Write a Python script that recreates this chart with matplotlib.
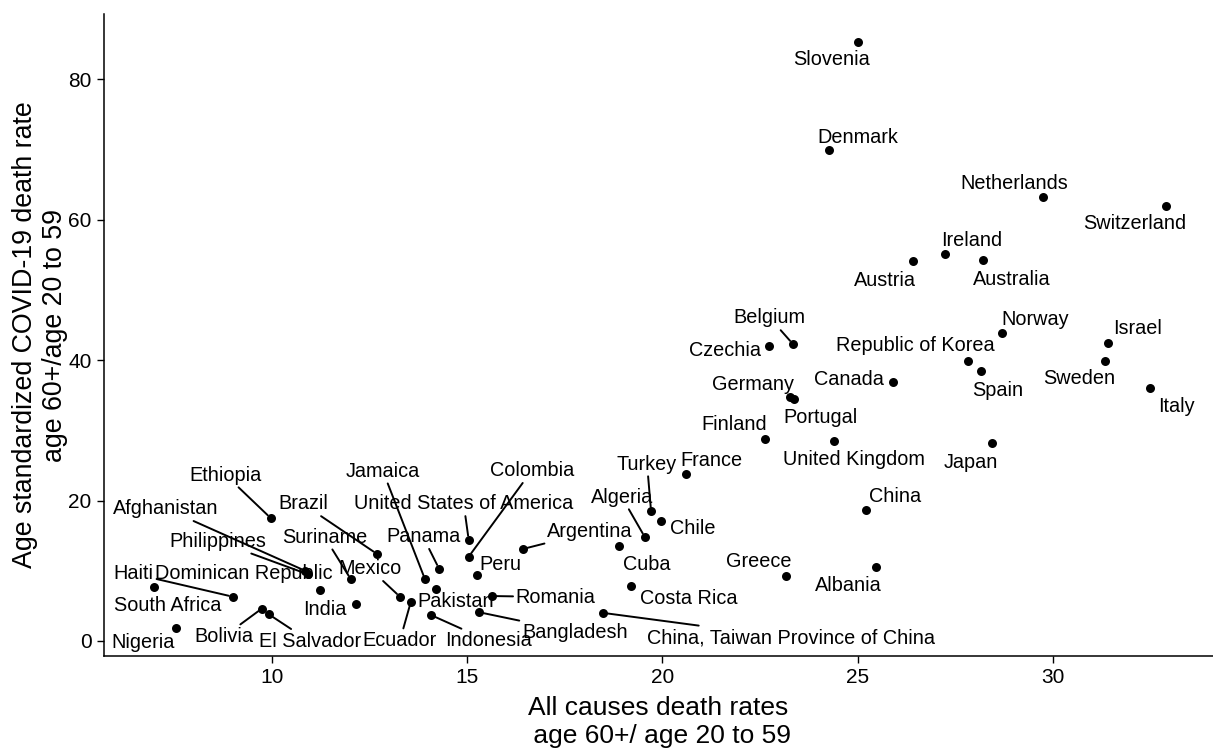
import matplotlib
matplotlib.use("Agg")
import matplotlib.pyplot as plt

plt.rcParams['font.family'] = ['Liberation Sans', 'DejaVu Sans']

countries = ['Slovenia', 'Denmark', 'Netherlands', 'Switzerland', 'Ireland', 'Austria',
             'Australia', 'Norway', 'Israel', 'Belgium', 'Czechia', 'Republic of Korea',
             'Sweden', 'Spain', 'Canada', 'Italy', 'Germany', 'Portugal', 'Finland',
             'United Kingdom', 'Japan', 'France', 'China', 'Turkey', 'Chile', 'Algeria',
             'Argentina', 'Cuba', 'Albania', 'Greece', 'Costa Rica',
             'China, Taiwan Province of China', 'Colombia', 'United States of America',
             'Peru', 'Panama', 'Jamaica', 'Pakistan', 'Mexico', 'Ecuador', 'Indonesia',
             'Romania', 'Bangladesh', 'Suriname', 'Brazil', 'Ethiopia', 'Afghanistan',
             'Philippines', 'Haiti', 'Dominican Republic', 'India', 'South Africa',
             'Nigeria', 'Bolivia', 'El Salvador']

all_cause = [25.01, 24.26, 29.74, 32.89, 27.23, 26.41,
             28.21, 28.69, 31.41, 23.34, 22.73, 27.82,
             31.33, 28.16, 25.90, 32.48, 23.27, 23.37, 22.62,
             24.39, 28.44, 20.60, 25.21, 19.71, 19.96, 19.55,
             16.43, 18.89, 25.47, 23.16, 19.19,
             18.48, 15.04, 15.04,
             15.25, 14.28, 13.92, 14.20, 13.28, 13.56, 14.07,
             15.63, 15.30, 12.02, 12.69, 9.97, 10.85,
             10.92, 9.00, 11.23, 12.15, 6.98,
             7.54, 9.74, 9.92]

covid = [85.3, 69.9, 63.2, 61.9, 55.1, 54.1,
         54.2, 43.8, 42.4, 42.3, 42.0, 39.9,
         39.9, 38.4, 36.9, 36.0, 34.7, 34.4, 28.8,
         28.5, 28.2, 23.8, 18.6, 18.5, 17.1, 14.8,
         13.1, 13.5, 10.5, 9.3, 7.8,
         4.0, 12.0, 14.4,
         9.4, 10.3, 8.8, 7.4, 6.3, 5.6, 3.7,
         6.4, 4.1, 8.8, 12.4, 17.5, 10.0,
         9.5, 6.3, 7.3, 5.3, 7.7,
         1.9, 4.6, 3.8]

# label offsets from the point, in pixels (x right, y up)
label_offset = {
    'Slovenia': (-27, -18), 'Denmark': (29, 13), 'Netherlands': (-28, 14),
    'Switzerland': (-31, -17), 'Ireland': (27, 14), 'Austria': (-28, -19),
    'Australia': (29, -19), 'Norway': (33, 14), 'Israel': (30, 15),
    'Belgium': (-23, 26), 'Czechia': (-44, -4), 'Republic of Korea': (-52, 15),
    'Sweden': (-26, -18), 'Spain': (17, -19), 'Canada': (-44, 2),
    'Italy': (27, -18), 'Germany': (-37, 13), 'Portugal': (27, -18),
    'Finland': (-31, 14), 'United Kingdom': (20, -19), 'Japan': (-21, -20),
    'France': (26, 13), 'China': (29, 14), 'Turkey': (-4, 47), 'Chile': (32, -8),
    'Algeria': (-23, 40), 'Argentina': (67, 17), 'Cuba': (28, -18),
    'Albania': (-28, -18), 'Greece': (-27, 14), 'Costa Rica': (58, -12),
    'China, Taiwan Province of China': (188, -25), 'Colombia': (63, 86),
    'United States of America': (-5, 36), 'Peru': (23, 10), 'Panama': (-16, 32),
    'Jamaica': (-42, 108), 'Pakistan': (20, -12), 'Mexico': (-30, 28),
    'Ecuador': (-11, -39), 'Indonesia': (58, -26), 'Romania': (64, -1),
    'Bangladesh': (96, -20), 'Suriname': (-26, 42), 'Brazil': (-74, 50),
    'Ethiopia': (-45, 43), 'Afghanistan': (-139, 62), 'Philippines': (-90, 33),
    'Haiti': (-99, 23), 'Dominican Republic': (-76, 16), 'India': (-31, -6),
    'South Africa': (14, -19), 'Nigeria': (-33, -15), 'Bolivia': (-38, -28),
    'El Salvador': (41, -27),
}

with_segment = {'Belgium', 'Germany', 'Turkey', 'Algeria', 'Argentina',
                'China, Taiwan Province of China', 'Colombia',
                'United States of America', 'Panama', 'Jamaica', 'Mexico',
                'Ecuador', 'Indonesia', 'Romania', 'Bangladesh', 'Suriname',
                'Brazil', 'Ethiopia', 'Afghanistan', 'Philippines', 'Haiti',
                'Bolivia', 'El Salvador'}

fig = plt.figure(figsize=(12.13, 7.48), dpi=100)
ax = fig.add_axes([0.0857, 0.123, 0.9143, 0.858])

ax.scatter(all_cause, covid, s=42, color='black', zorder=3, linewidths=0)

px2pt = 0.72
for name, x, y in zip(countries, all_cause, covid):
    dx, dy = label_offset[name]
    arrow = None
    if name in with_segment:
        arrow = dict(arrowstyle='-', color='black', lw=1.4, shrinkA=0, shrinkB=3)
    ax.annotate(name, (x, y), xytext=(dx * px2pt, dy * px2pt),
                textcoords='offset points', ha='center', va='center',
                fontsize=14.3, arrowprops=arrow, zorder=2,
                annotation_clip=False)

ax.set_xlim(5.70, 34.10)
ax.set_ylim(-2.14, 89.25)
ax.set_xticks([10, 15, 20, 25, 30])
ax.set_yticks([0, 20, 40, 60, 80])
ax.tick_params(labelsize=15, length=5, width=1, colors='black', pad=4)

for s in ['top', 'right']:
    ax.spines[s].set_visible(False)
for s in ['left', 'bottom']:
    ax.spines[s].set_linewidth(1.1)

ax.set_xlabel('All causes death rates\n age 60+/ age 20 to 59', fontsize=19, labelpad=6)
ax.set_ylabel('Age standardized COVID-19 death rate\nage 60+/age 20 to 59', fontsize=19.3,
              labelpad=0)

fig.savefig('out.png', dpi=100)
